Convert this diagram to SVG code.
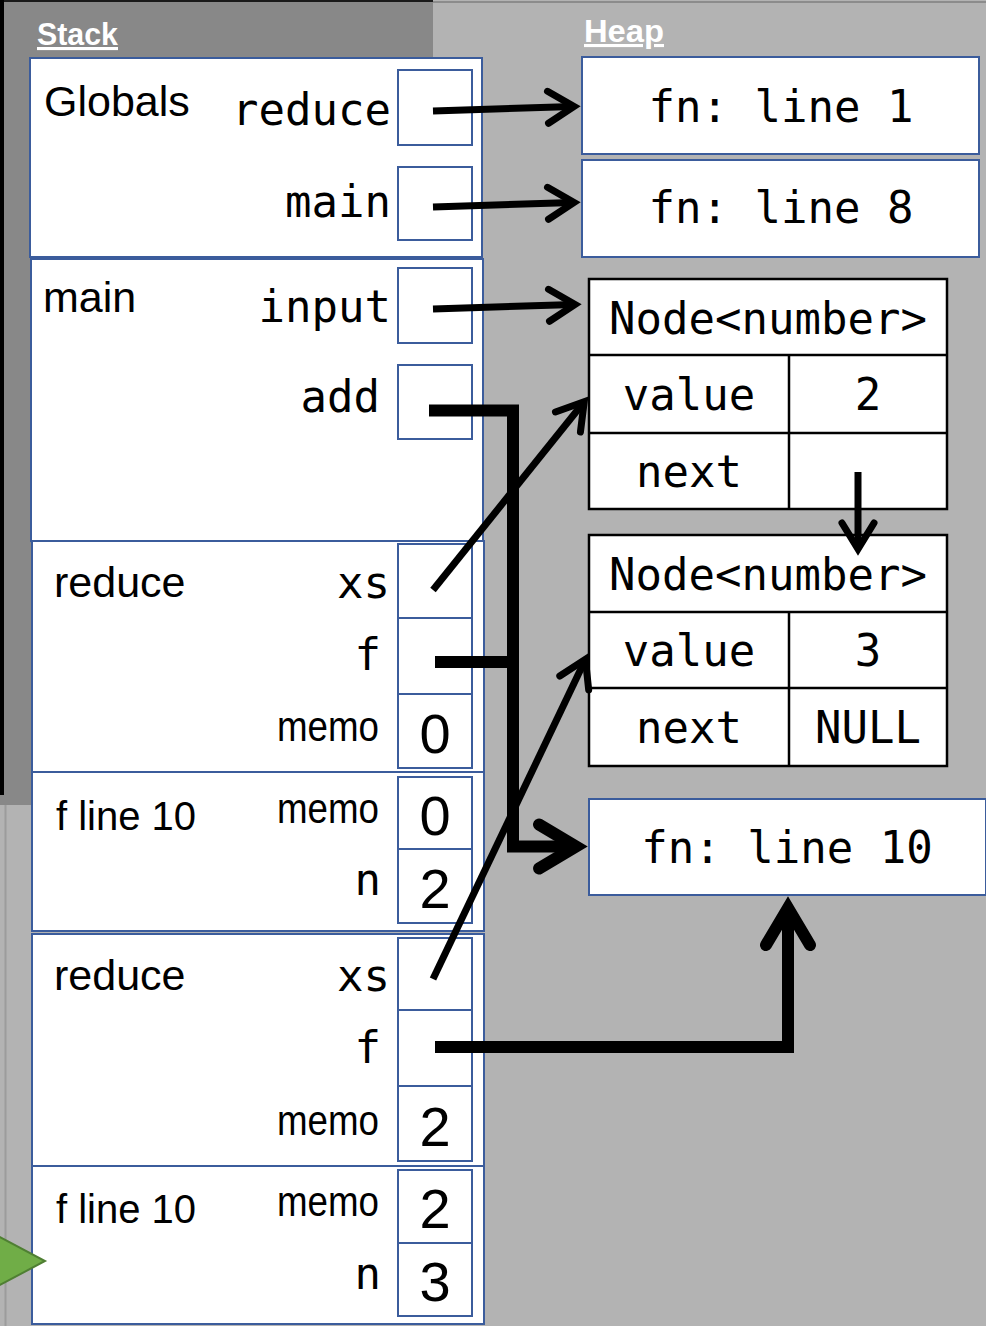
<svg xmlns="http://www.w3.org/2000/svg" width="986" height="1326" viewBox="0 0 986 1326">
<style>
.frame{fill:#ffffff;stroke:#3b5c9c;stroke-width:2}
.cell{fill:#ffffff;stroke:#3b5c9c;stroke-width:2}
.tbl{fill:#ffffff;stroke:#000000;stroke-width:2.5}
.sep{stroke:#000000;stroke-width:2.5}
.lbl{font-family:"Liberation Sans",Arial,sans-serif;font-size:43px;fill:#000}
.mono{font-family:"DejaVu Sans Mono","Liberation Mono",monospace;font-size:44px;fill:#000}
.num{font-family:"Liberation Sans",Arial,sans-serif;font-size:56px;fill:#000;text-anchor:middle}
.end{text-anchor:end}
.mid{text-anchor:middle}
.title{font-family:"Liberation Sans",Arial,sans-serif;font-size:31px;font-weight:bold;fill:#ffffff;text-decoration:underline}
.thin{fill:none;stroke:#000;stroke-width:7;stroke-linejoin:miter}
.thick{fill:none;stroke:#000;stroke-width:12;stroke-linejoin:miter}
</style>
<defs>
<marker id="ah" markerUnits="userSpaceOnUse" viewBox="-45 -25 55 50" markerWidth="55" markerHeight="50" refX="-7" refY="0" orient="auto" overflow="visible">
<path d="M -32 -16 L -6 0 L -32 16" fill="none" stroke="#000" stroke-width="7" stroke-linecap="round" stroke-linejoin="miter"/>
</marker>
<marker id="ahb" markerUnits="userSpaceOnUse" viewBox="-60 -35 70 70" markerWidth="70" markerHeight="70" refX="-12" refY="0" orient="auto" overflow="visible">
<path d="M -49 -22 L -12 0 L -49 22" fill="none" stroke="#000" stroke-width="12" stroke-linecap="round" stroke-linejoin="miter"/>
</marker>
</defs>

<g id="background">
<rect x="0" y="0" width="986" height="1326" fill="#b3b3b3"/>
<rect x="433" y="1" width="553" height="2" fill="#8c8c8c"/>
<rect x="0" y="0" width="433" height="805" fill="#888888"/>
<rect x="0" y="0" width="433" height="2" fill="#1a1a1a"/>
<rect x="0" y="0" width="4" height="795" fill="#000000"/>
<line x1="5.5" y1="805" x2="5.5" y2="1326" stroke="#9c9c9c" stroke-width="2"/>
<text class="title" x="37" y="45" textLength="81" lengthAdjust="spacingAndGlyphs">Stack</text>
<text class="title" x="584" y="42" textLength="80" lengthAdjust="spacingAndGlyphs">Heap</text>
</g>

<g id="frame-globals">
<rect class="frame" x="30" y="58" width="452" height="199"/>
<text class="lbl" x="44" y="116">Globals</text>
<text class="mono end" x="391" y="125">reduce</text>
<rect class="cell" x="398" y="70" width="74" height="75"/>
<text class="mono end" x="391" y="217">main</text>
<rect class="cell" x="398" y="167" width="74" height="73"/>
</g>

<g id="frame-main">
<rect class="frame" x="31" y="259" width="452" height="282"/>
<text class="lbl" x="43" y="312">main</text>
<text class="mono end" x="391" y="322">input</text>
<rect class="cell" x="398" y="268" width="74" height="75"/>
<text class="mono end" x="380" y="412">add</text>
<rect class="cell" x="398" y="365" width="74" height="74"/>
</g>

<g id="frame-reduce-1">
<rect class="frame" x="32" y="541" width="452" height="231"/>
<text class="lbl" x="54" y="597">reduce</text>
<text class="mono end" x="390" y="598">xs</text>
<rect class="cell" x="398" y="544" width="74" height="74"/>
<text class="mono end" x="381" y="670">f</text>
<rect class="cell" x="398" y="618" width="74" height="76"/>
<text class="lbl" x="277" y="741" textLength="102" lengthAdjust="spacingAndGlyphs">memo</text>
<rect class="cell" x="398" y="694" width="74" height="74"/>
<text class="num" x="435" y="753">0</text>
</g>

<g id="frame-fline10-1">
<rect class="frame" x="32" y="772" width="452" height="159"/>
<text class="lbl" x="56" y="830" style="font-size:40px">f line 10</text>
<text class="lbl" x="277" y="823" textLength="102" lengthAdjust="spacingAndGlyphs">memo</text>
<rect class="cell" x="398" y="777" width="74" height="72"/>
<text class="num" x="435" y="835">0</text>
<text class="mono end" x="381" y="895">n</text>
<rect class="cell" x="398" y="849" width="74" height="74"/>
<text class="num" x="435" y="908">2</text>
</g>

<g id="frame-reduce-2">
<rect class="frame" x="32" y="934" width="452" height="232"/>
<text class="lbl" x="54" y="990">reduce</text>
<text class="mono end" x="390" y="991">xs</text>
<rect class="cell" x="398" y="938" width="74" height="72"/>
<text class="mono end" x="381" y="1063">f</text>
<rect class="cell" x="398" y="1010" width="74" height="76"/>
<text class="lbl" x="277" y="1135" textLength="102" lengthAdjust="spacingAndGlyphs">memo</text>
<rect class="cell" x="398" y="1086" width="74" height="75"/>
<text class="num" x="435" y="1146">2</text>
</g>

<g id="frame-fline10-2">
<rect class="frame" x="32" y="1166" width="452" height="158"/>
<text class="lbl" x="56" y="1223" style="font-size:40px">f line 10</text>
<text class="lbl" x="277" y="1216" textLength="102" lengthAdjust="spacingAndGlyphs">memo</text>
<rect class="cell" x="398" y="1170" width="74" height="73"/>
<text class="num" x="435" y="1228">2</text>
<text class="mono end" x="381" y="1289">n</text>
<rect class="cell" x="398" y="1243" width="74" height="73"/>
<text class="num" x="435" y="1301">3</text>
</g>

<g id="heap-fn-line-1">
<rect class="frame" x="582" y="57" width="397" height="97"/>
<text class="mono mid" x="781" y="122">fn: line 1</text>
</g>

<g id="heap-fn-line-8">
<rect class="frame" x="582" y="160" width="397" height="97"/>
<text class="mono mid" x="781" y="223">fn: line 8</text>
</g>

<g id="heap-node-1">
<rect class="tbl" x="589" y="279" width="358" height="230"/>
<line class="sep" x1="589" y1="355" x2="947" y2="355"/>
<line class="sep" x1="589" y1="433" x2="947" y2="433"/>
<line class="sep" x1="789" y1="355" x2="789" y2="509"/>
<text class="mono mid" x="768" y="334">Node&lt;number&gt;</text>
<text class="mono mid" x="689" y="410">value</text>
<text class="mono mid" x="868" y="410">2</text>
<text class="mono mid" x="689" y="487">next</text>
</g>

<g id="heap-node-2">
<rect class="tbl" x="589" y="535" width="358" height="231"/>
<line class="sep" x1="589" y1="612" x2="947" y2="612"/>
<line class="sep" x1="589" y1="688" x2="947" y2="688"/>
<line class="sep" x1="789" y1="612" x2="789" y2="766"/>
<text class="mono mid" x="768" y="590">Node&lt;number&gt;</text>
<text class="mono mid" x="689" y="666">value</text>
<text class="mono mid" x="868" y="666">3</text>
<text class="mono mid" x="689" y="743">next</text>
<text class="mono mid" x="868" y="743">NULL</text>
</g>

<g id="heap-fn-line-10">
<rect class="frame" x="589" y="799" width="397" height="96"/>
<text class="mono mid" x="787" y="863">fn: line 10</text>
</g>

<g id="pc-marker">
<polygon points="-2,1236 45,1261 -2,1286" fill="#70ad47" stroke="#4f7f33" stroke-width="2"/>
</g>

<g id="connectors">
<path class="thin" d="M 433 111 L 573 106.5" marker-end="url(#ah)"/>
<path class="thin" d="M 433 207 L 573 202.5" marker-end="url(#ah)"/>
<path class="thin" d="M 433 309 L 574 304.5" marker-end="url(#ah)"/>
<path class="thin" d="M 433 590 L 583.6 402.5" marker-end="url(#ah)"/>
<path class="thin" d="M 433 979 L 585 660.3" marker-end="url(#ah)"/>
<path class="thin" d="M 858 472 L 858 548" marker-end="url(#ah)"/>
<path class="thick" d="M 429 410.5 H 513 V 846.5 H 576" marker-end="url(#ahb)"/>
<path class="thick" d="M 435 662 H 513"/>
<path class="thick" d="M 435 1047 H 788 V 908" marker-end="url(#ahb)"/>
</g>
</svg>
